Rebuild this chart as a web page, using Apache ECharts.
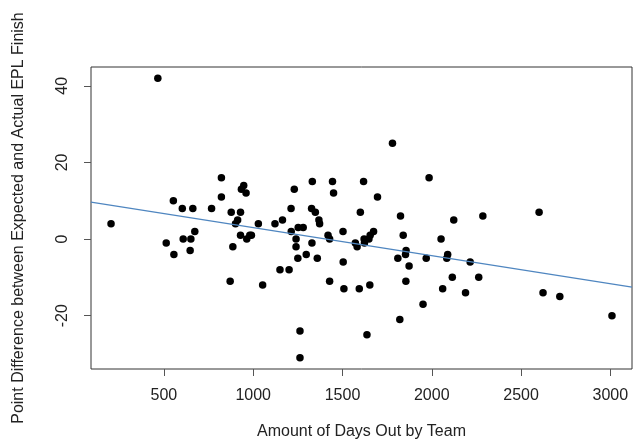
<!DOCTYPE html>
<html>
	<head>
		<meta charset="UTF-8">
		<title></title>
		<style>
			body{margin:0}
			#chart{width:639px;height:441px}
		</style>
	</head>
	<body>
		<div id="chart"></div>
		<script src="https://cdn.jsdelivr.net/npm/echarts@6/dist/echarts.min.js"></script>
<script>
// days out by team (x) and point difference (y)
var daysOut = [204, 466, 513, 553, 556, 603, 608, 647, 651, 662, 673, 767, 822, 822, 871, 877, 886, 901, 913, 929,
	929, 934, 947, 960, 964, 981, 990, 1029, 1053, 1122, 1150, 1164, 1201, 1212, 1213, 1230, 1240, 1240, 1250, 1252,
	1262, 1262, 1280, 1297, 1327, 1329, 1331, 1348, 1359, 1368, 1372, 1419, 1428, 1428, 1444, 1450, 1503, 1504, 1508, 1572,
	1582, 1594, 1600, 1618, 1621, 1623, 1637, 1648, 1653, 1655, 1674, 1696, 1780, 1810, 1821, 1825, 1840, 1853, 1856, 1855,
	1873, 1951, 1969, 1985, 2052, 2061, 2084, 2089, 2115, 2123, 2189, 2215, 2263, 2286, 2601, 2623, 2717, 3009];
var pointDiff = [4, 42, -1, 10, -4, 8, 0, -3, 0, 8, 2, 8, 16, 11, -11, 7, -2, 4, 5, 7,
	1, 13, 14, 12, 0, 1, 1, 4, -12, 4, -8, 5, -8, 8, 2, 13, 0, -2, -5, 3,
	-24, -31, 3, -4, 8, -1, 15, 7, -5, 5, 4, 1, 0, -11, 15, 12, 2, -6, -13, -1,
	-2, -13, 7, 15, 0, -1, -25, 0, -12, 1, 2, 11, 25, -5, -21, 6, 1, -4, -3, -11,
	-7, -17, -5, 16, 0, -13, -5, -4, -10, 5, -14, -6, -10, 6, 7, -14, -15, -20];
var xTicks = [500, 1000, 1500, 2000, 2500, 3000];
var yTicks = [-20, 0, 20, 40];

var points = daysOut.map(function(d, i){ return [d, pointDiff[i]]; });

// R style 4% padding around the data range
function pad(arr){
	var lo = Math.min.apply(null, arr), hi = Math.max.apply(null, arr), r = hi - lo;
	return [lo - 0.04 * r, hi + 0.04 * r];
}
var xr = pad(daysOut), yr = pad(pointDiff);

// least squares fit line
var n = daysOut.length, mx = 0, my = 0, sxy = 0, sxx = 0;
for (var i = 0; i < n; i++){ mx += daysOut[i] / n; my += pointDiff[i] / n; }
for (var i = 0; i < n; i++){ sxy += (daysOut[i] - mx) * (pointDiff[i] - my); sxx += (daysOut[i] - mx) * (daysOut[i] - mx); }
var slope = sxy / sxx, icpt = my - slope * mx;
var fitLine = [[xr[0], icpt + slope * xr[0]], [xr[1], icpt + slope * xr[1]]];

var font = 'Liberation Sans, Arial, sans-serif';
var chart = echarts.init(document.getElementById('chart'));
chart.setOption({
	animation: false,
	grid: {
		left: 91, top: 67, right: 7, bottom: 72,
		containLabel: false, outerBoundsMode: 'none',
		show: true, borderColor: '#333', borderWidth: 1, backgroundColor: '#fff'
	},
	xAxis: {
		type: 'value', min: xr[0], max: xr[1],
		name: 'Amount of Days Out by Team', nameLocation: 'middle', nameGap: 55,
		nameTextStyle: {fontFamily: font, fontSize: 16, color: '#222'},
		axisLine: {show: false, onZero: false},
		splitLine: {show: false},
		axisTick: {show: true, length: 7, lineStyle: {color: '#555'}, customValues: xTicks},
		axisLabel: {fontFamily: font, fontSize: 16, color: '#222', margin: 19, customValues: xTicks,
			formatter: function(v){ return String(v); }}
	},
	yAxis: {
		type: 'value', min: yr[0], max: yr[1],
		name: 'Point Difference between Expected and Actual EPL Finish', nameLocation: 'middle', nameGap: 64,
		nameTextStyle: {fontFamily: font, fontSize: 16, color: '#222'},
		axisLine: {show: false, onZero: false},
		splitLine: {show: false},
		axisTick: {show: true, length: 7, lineStyle: {color: '#555'}, customValues: yTicks},
		axisLabel: {fontFamily: font, fontSize: 16, color: '#222', margin: 20, rotate: 90, customValues: yTicks,
			formatter: function(v){ return String(v); }}
	},
	series: [
		{
			type: 'scatter', data: points, symbolSize: 7.5,
			itemStyle: {color: '#000', opacity: 1}
		},
		{
			type: 'line', data: fitLine, symbol: 'none',
			lineStyle: {color: '#4f86c0', width: 1.2}
		}
	]
});
</script>
	</body>
</html>
